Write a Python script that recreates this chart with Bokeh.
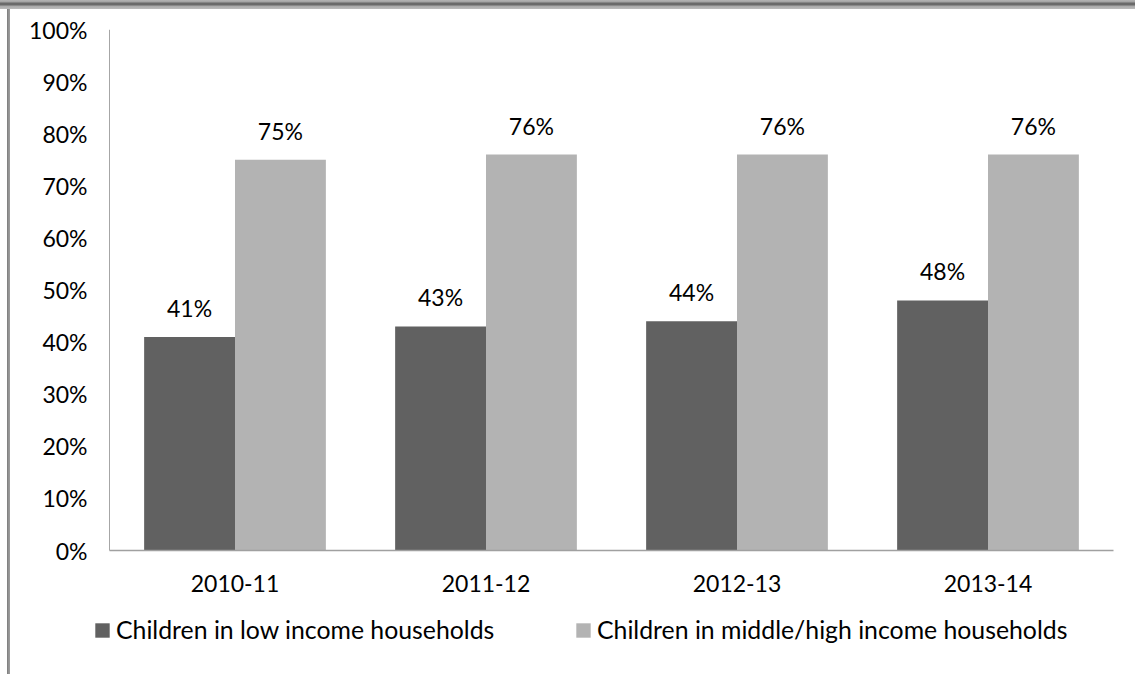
from bokeh.plotting import figure
from bokeh.models import (ColumnDataSource, FactorRange, NumeralTickFormatter, Legend, LegendItem,
                          FixedTicker, LinearAxis)
from bokeh.transform import dodge
from bokeh.core.properties import value
from bokeh.embed import file_html
from bokeh.resources import INLINE

years = ["2010-11", "2011-12", "2012-13", "2013-14"]
low_income = [0.41, 0.43, 0.44, 0.48]
mid_high_income = [0.75, 0.76, 0.76, 0.76]
low_labels = ["41%", "43%", "44%", "48%"]
mid_labels = ["75%", "76%", "76%", "76%"]
series_names = ["Children in low income households", "Children in middle/high income households"]
y_ticks = [0.0, 0.1, 0.2, 0.3, 0.4, 0.5, 0.6, 0.7, 0.8, 0.9, 1.0]

DARK = "#616161"
LIGHT = "#b3b3b3"
FONT = "Lato"

src = ColumnDataSource(dict(years=years, low=low_income, mid=mid_high_income,
                            low_lab=low_labels, mid_lab=mid_labels))

# frame spans x 90..1132 and y 29..674; the visible axis lines are pinned inside it
x_range = FactorRange(*years, range_padding=19 / 251, range_padding_units="absolute")
p = figure(width=1135, height=674, x_range=x_range, y_range=(-124 / 521, 1.0),
           output_backend="svg", toolbar_location=None,
           min_border_left=90, min_border_right=3, min_border_top=29, min_border_bottom=0)
p.outline_line_color = None
p.grid.visible = False
p.border_fill_alpha = 0
p.background_fill_color = "white"
p.styles = {
    "background": "linear-gradient(to bottom, #b4b4b4 0px, #a2a2a2 2px, #6a6a6a 3px, #6a6a6a 5px, #a8a8a8 6px, #bcbcbc 9px, transparent 9px) 0 0 / 100% 10px no-repeat, "
                  "linear-gradient(to right, #7a7a7a 0px, #9a9a9a 2px) 7px 0 / 3px 100% no-repeat, white"
}

bw = 0.362
r1 = p.vbar(x=dodge("years", -bw / 2, range=p.x_range), top="low", bottom=0, width=bw, source=src,
            fill_color=DARK, line_color=None)
r2 = p.vbar(x=dodge("years", bw / 2, range=p.x_range), top="mid", bottom=0, width=bw, source=src,
            fill_color=LIGHT, line_color=None)

p.text(x=dodge("years", -bw / 2, range=p.x_range), y="low", text="low_lab", source=src,
       text_align="center", text_baseline="alphabetic", y_offset=-29,
       text_font=value(FONT), text_font_size="23px", text_color="#000000")
p.text(x=dodge("years", bw / 2, range=p.x_range), y="mid", text="mid_lab", source=src,
       text_align="center", text_baseline="alphabetic", y_offset=-29,
       text_font=value(FONT), text_font_size="23px", text_color="#000000")

# y tick labels: regular left axis (line hidden)
yax = p.yaxis[0]
yax.ticker = FixedTicker(ticks=y_ticks)
yax.formatter = NumeralTickFormatter(format="0%")
yax.major_tick_out = 0
yax.major_tick_in = 0
yax.minor_tick_out = 0
yax.minor_tick_in = 0
yax.major_label_standoff = 3
yax.axis_line_color = None
yax.major_label_text_font = FONT
yax.major_label_text_font_size = "23px"
yax.major_label_text_color = "#000000"

# y axis line at the start of the first category
yline = LinearAxis(fixed_location=0, bounds=(0, 1), ticker=FixedTicker(ticks=[]),
                   major_tick_out=0, major_tick_in=0, minor_tick_out=0, minor_tick_in=0,
                   axis_line_color="#a6a6a6")
p.add_layout(yline, "left")

xax = p.xaxis[0]
xax.fixed_location = 0
xax.bounds = (0, 4)
xax.major_tick_out = 0
xax.major_tick_in = 0
xax.major_label_standoff = 24
xax.axis_line_color = "#a0a0a0"
xax.axis_line_width = 1.5
xax.major_label_text_font = FONT
xax.major_label_text_font_size = "23px"
xax.major_label_text_color = "#000000"

for r, name, loc in [(r1, series_names[0], (3, 30)), (r2, series_names[1], (484, 30))]:
    lg = Legend(items=[LegendItem(label=name, renderers=[r])], location=loc,
                orientation="horizontal", padding=0, margin=0, border_line_color=None,
                background_fill_alpha=0, glyph_width=18, glyph_height=18, label_height=18,
                label_standoff=5, label_text_font=FONT, label_text_font_size="24.8px",
                label_text_color="#000000")
    p.add_layout(lg, "center")

open("out.html", "w").write(file_html(p, INLINE))
